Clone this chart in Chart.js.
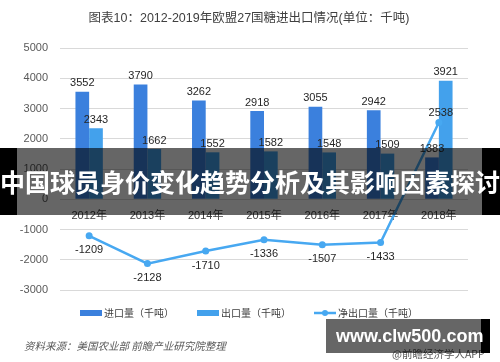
<!DOCTYPE html>
<html>
<head>
<meta charset="utf-8">
<script src="https://cdn.jsdelivr.net/npm/chart.js@4/dist/chart.umd.min.js"></script>
<style>
html, body { margin: 0; padding: 0; background: #fff; }
#wrap { position: relative; width: 500px; height: 362px; overflow: hidden; }
#wrap canvas { position: absolute; left: 0; top: 0; }
.title { position: absolute; left: 0; top: 7px; width: 498px; text-align: center; font: 12.5px "Liberation Sans", "Noto Sans CJK SC", sans-serif; color: #404040; white-space: nowrap; }
.src { position: absolute; left: 24px; top: 338px; font: italic 10.5px "Noto Sans CJK SC", sans-serif; color: #595959; white-space: nowrap; }
.app { position: absolute; left: 392px; top: 346px; font: 10.5px "Noto Sans CJK SC", sans-serif; color: #595959; white-space: nowrap; }
.band { position: absolute; left: 0; top: 148px; width: 500px; height: 67px;
  background: linear-gradient(to right, #000 0 17px, rgba(0,0,0,0.6) 17px 482px, #000 482px 500px);
  color: #fff; font: bold 25px "Noto Sans CJK SC", sans-serif; line-height: 67px; text-align: center; white-space: nowrap; }
.mark { position: absolute; left: 326px; top: 319px; width: 164px; height: 34px;
  background: linear-gradient(to right, rgba(0,0,0,0.6) 0 155px, #000 155px 164px);
  color: #fff; font: bold 18px "Liberation Sans", Arial, sans-serif; line-height: 34px; padding-left: 10px; box-sizing: border-box; white-space: nowrap; }
</style>
</head>
<body>
<div id="wrap">
  <canvas id="sugarChart" width="500" height="362"></canvas>
  <div class="title">图表10：2012-2019年欧盟27国糖进出口情况(单位：千吨)</div>
  <div class="src">资料来源：美国农业部 前瞻产业研究院整理</div>
  <div class="app">@前瞻经济学人APP</div>
  <div class="band">中国球员身价变化趋势分析及其影响因素探讨</div>
  <div class="mark">www.clw500.com</div>
</div>
<script>
// data
const years = ['2012年', '2013年', '2014年', '2015年', '2016年', '2017年', '2018年'];
const importVals = [3552, 3790, 3262, 2918, 3055, 2942, 1383];
const exportVals = [2343, 1662, 1552, 1582, 1548, 1509, 3921];
const netVals = [-1209, -2128, -1710, -1336, -1507, -1433, 2538];
const yMin = -3000, yMax = 5000, yStep = 1000;

const FONT = '"Liberation Sans", "Noto Sans CJK SC", sans-serif';
const importColor = '#3b80dd';
const exportColor = '#43a1ec';
const netColor = '#47a8f1';

// value labels
const valueLabels = {
    id: 'valueLabels',
    afterDatasetsDraw(chart) {
        const ctx = chart.ctx;
        ctx.save();
        ctx.font = '11px ' + FONT;
        ctx.fillStyle = '#262626';
        ctx.textAlign = 'center';
        chart.data.datasets.forEach((ds, i) => {
            const meta = chart.getDatasetMeta(i);
            meta.data.forEach((el, j) => {
                const v = ds.data[j];
                if (ds.type === 'line') {
                    if (v >= 0) {
                        ctx.textBaseline = 'bottom';
                        ctx.fillText(v, el.x + 2, el.y - 4);
                    } else {
                        ctx.textBaseline = 'top';
                        ctx.fillText(v, el.x, el.y + 9);
                    }
                } else {
                    ctx.textBaseline = 'bottom';
                    ctx.fillText(v, el.x, el.y - 3);
                }
            });
        });
        ctx.restore();
    }
};

// legend drawn on canvas
const bottomLegend = {
    id: 'bottomLegend',
    afterDraw(chart) {
        const ctx = chart.ctx;
        const y = 313;
        ctx.save();
        ctx.font = '10px "Noto Sans CJK SC", sans-serif';
        ctx.textBaseline = 'middle';
        const items = chart.data.datasets.map(ds => ({
            label: ds.label, color: ds.borderColor || ds.backgroundColor, line: ds.type === 'line',
            w: 24 + ctx.measureText(ds.label).width
        }));
        const gap = 23;
        const total = items.reduce((s, it) => s + it.w, 0) + gap * (items.length - 1);
        let x = 249 - total / 2;
        items.forEach(it => {
            if (it.line) {
                ctx.strokeStyle = it.color;
                ctx.lineWidth = 2.5;
                ctx.beginPath();
                ctx.moveTo(x, y);
                ctx.lineTo(x + 22, y);
                ctx.stroke();
                ctx.fillStyle = it.color;
                ctx.beginPath();
                ctx.arc(x + 11, y, 3, 0, Math.PI * 2);
                ctx.fill();
            } else {
                ctx.fillStyle = it.color;
                ctx.fillRect(x, y - 3, 22, 6);
            }
            ctx.fillStyle = '#404040';
            ctx.fillText(it.label, x + 24, y);
            x += it.w + gap;
        });
        ctx.restore();
    }
};

const ctx = document.getElementById('sugarChart').getContext('2d');
new Chart(ctx, {
    type: 'bar',
    data: {
        labels: years,
        datasets: [{
            label: '进口量（千吨）',
            data: importVals,
            backgroundColor: importColor,
            order: 2
        }, {
            label: '出口量（千吨）',
            data: exportVals,
            backgroundColor: exportColor,
            order: 2
        }, {
            type: 'line',
            label: '净出口量（千吨）',
            data: netVals,
            borderColor: netColor,
            backgroundColor: netColor,
            borderWidth: 2.5,
            pointRadius: 3.5,
            pointBackgroundColor: netColor,
            pointBorderWidth: 0,
            tension: 0,
            order: 1
        }]
    },
    options: {
        responsive: false,
        animation: false,
        layout: { padding: { left: 0, right: 32, top: 48, bottom: 72 } },
        datasets: {
            bar: { categoryPercentage: 0.47, barPercentage: 1.0 }
        },
        plugins: {
            title: { display: false },
            legend: { display: false },
            tooltip: { enabled: false }
        },
        scales: {
            x: {
                position: { y: 0 },
                grid: { display: false },
                border: { display: false },
                ticks: { color: '#404040', font: { family: FONT, size: 11 }, padding: 2, maxRotation: 0 }
            },
            y: {
                min: yMin,
                max: yMax,
                afterFit(scale) { scale.width = 60; },
                grid: { color: '#d9d9d9', lineWidth: 1, drawTicks: false },
                border: { display: false },
                ticks: {
                    stepSize: yStep, color: '#595959', font: { family: FONT, size: 11 }, padding: 12,
                    callback: v => String(v)
                }
            }
        }
    },
    plugins: [valueLabels, bottomLegend]
});
</script>
</body>
</html>
